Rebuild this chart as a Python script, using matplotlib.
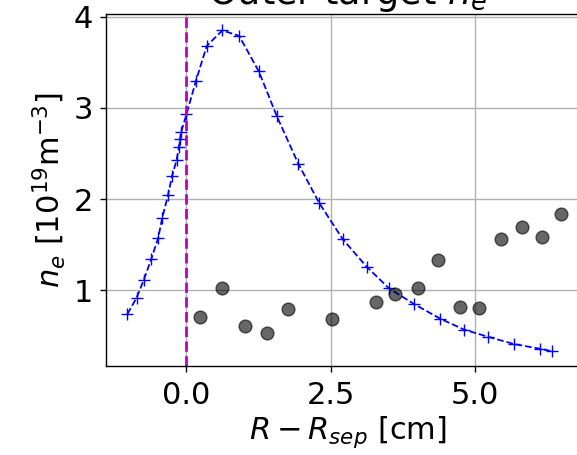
import numpy as np
import matplotlib.pyplot as plt

# simulated profile (blue dashed with + markers)
sim_r = [-1.01, -0.85, -0.73, -0.60, -0.48, -0.41, -0.31, -0.24, -0.16, -0.12,
         -0.10, -0.08, 0.01, 0.17, 0.36, 0.63, 0.92, 1.26, 1.57, 1.94,
         2.30, 2.71, 3.12, 3.51, 3.94, 4.39, 4.80, 5.22, 5.67, 6.11, 6.33]
sim_ne = [0.74, 0.92, 1.11, 1.34, 1.57, 1.79, 2.04, 2.25, 2.43, 2.57,
          2.66, 2.74, 2.93, 3.29, 3.68, 3.85, 3.79, 3.40, 2.91, 2.39,
          1.96, 1.56, 1.26, 1.02, 0.85, 0.69, 0.57, 0.49, 0.41, 0.36, 0.33]

# measured (grey dots)
exp_r = [0.25, 0.63, 1.02, 1.40, 1.77, 2.52, 3.28, 3.62, 4.01, 4.36,
         4.73, 5.07, 5.44, 5.80, 6.15, 6.48]
exp_ne = [0.71, 1.03, 0.61, 0.53, 0.79, 0.69, 0.87, 0.96, 1.03, 1.33,
          0.82, 0.81, 1.56, 1.69, 1.58, 1.84]

plt.rcParams['font.size'] = 22
plt.rcParams['axes.linewidth'] = 1.0
plt.rcParams['xtick.major.width'] = 1.0
plt.rcParams['ytick.major.width'] = 1.0
plt.rcParams['xtick.major.size'] = 4.5
plt.rcParams['ytick.major.size'] = 4.5
plt.rcParams['xtick.major.pad'] = 6
plt.rcParams['ytick.major.pad'] = 5

fig = plt.figure(figsize=(5.77, 4.55), dpi=100)
ax = fig.add_axes([106 / 577, 1 - 366 / 455, (590 - 106) / 577, (366 - 14) / 455])

ax.plot(sim_r, sim_ne, 'b+--', markersize=8.5, linewidth=1.3)
ax.scatter(exp_r, exp_ne, s=85, c='k', alpha=0.6, zorder=3)
ax.axvline(0, color='m', linestyle='--', linewidth=2)

ax.set_xlim(-1.38, 6.98)
ax.set_ylim(0.17, 4.03)
ax.set_xticks([0.0, 2.5, 5.0])
ax.set_yticks([1, 2, 3, 4])
ax.grid(linewidth=1.0)
ax.set_xlabel(r'$R - R_{sep}$ [cm]', labelpad=3)
ax.set_ylabel(r'$n_e$ [10$^{19}$m$^{-3}$]')
ax.set_title(r'Outer target $n_e$', pad=3)

fig.savefig('out.png', dpi=100)
